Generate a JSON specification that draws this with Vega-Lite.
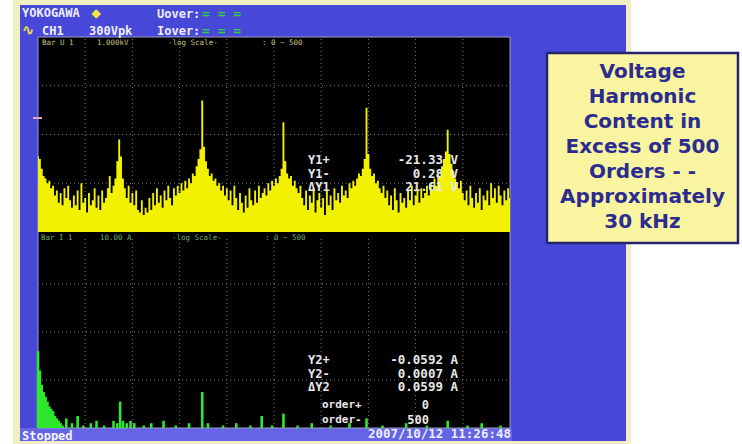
{
"$schema": "https://vega.github.io/schema/vega-lite/v6.json",
"width": 742, "height": 444, "padding": 0,
"autosize": {"type": "none"},
"background": "#ffffff",
"config": {"view": {"stroke": null}, "axis": {"disable": true}},
"datasets": {
"voltage": [
{"order":0,"u":11},{"order":2,"u":10},{"order":4,"u":6},{"order":6,"u":3},{"order":8,"u":2},{"order":10,"u":0},{"order":12,"u":1},{"order":14,"u":-2},{"order":16,"u":-1},{"order":18,"u":-5},
{"order":20,"u":-3},{"order":22,"u":-8},{"order":24,"u":-4},{"order":26,"u":-9},{"order":28,"u":-2},{"order":30,"u":-6},{"order":32,"u":-1},{"order":34,"u":-7},{"order":36,"u":-10},{"order":38,"u":-5},
{"order":40,"u":-9},{"order":42,"u":-3},{"order":44,"u":-11},{"order":46,"u":0},{"order":48,"u":-8},{"order":50,"u":-6},{"order":52,"u":-12},{"order":54,"u":-4},{"order":56,"u":-9},{"order":58,"u":-7},
{"order":60,"u":-2},{"order":62,"u":-10},{"order":64,"u":-5},{"order":66,"u":-11},{"order":68,"u":-3},{"order":70,"u":-8},{"order":72,"u":-6},{"order":74,"u":-2},{"order":76,"u":3},{"order":78,"u":-4},
{"order":80,"u":-1},{"order":82,"u":2},{"order":84,"u":9},{"order":86,"u":18},{"order":88,"u":11},{"order":90,"u":2},{"order":92,"u":-2},{"order":94,"u":-6},{"order":96,"u":-1},{"order":98,"u":-8},
{"order":100,"u":-4},{"order":102,"u":-9},{"order":104,"u":-3},{"order":106,"u":-11},{"order":108,"u":-12},{"order":110,"u":-7},{"order":112,"u":-13},{"order":114,"u":-10},{"order":116,"u":-12},{"order":118,"u":-6},
{"order":120,"u":-11},{"order":122,"u":-4},{"order":124,"u":-9},{"order":126,"u":-2},{"order":128,"u":-8},{"order":130,"u":-5},{"order":132,"u":-10},{"order":134,"u":-3},{"order":136,"u":-7},{"order":138,"u":-1},
{"order":140,"u":-6},{"order":142,"u":-9},{"order":144,"u":-2},{"order":146,"u":-5},{"order":148,"u":-1},{"order":150,"u":-4},{"order":152,"u":0},{"order":154,"u":-3},{"order":156,"u":1},{"order":158,"u":-2},
{"order":160,"u":2},{"order":162,"u":0},{"order":164,"u":4},{"order":166,"u":3},{"order":168,"u":7},{"order":170,"u":10},{"order":172,"u":14},{"order":174,"u":34},{"order":176,"u":15},{"order":178,"u":9},
{"order":180,"u":6},{"order":182,"u":3},{"order":184,"u":4},{"order":186,"u":1},{"order":188,"u":2},{"order":190,"u":-1},{"order":192,"u":0},{"order":194,"u":-3},{"order":196,"u":-1},{"order":198,"u":-5},
{"order":200,"u":-2},{"order":202,"u":-7},{"order":204,"u":-3},{"order":206,"u":-9},{"order":208,"u":-1},{"order":210,"u":-6},{"order":212,"u":-11},{"order":214,"u":-4},{"order":216,"u":-8},{"order":218,"u":-12},
{"order":220,"u":-5},{"order":222,"u":-10},{"order":224,"u":-2},{"order":226,"u":-7},{"order":228,"u":-9},{"order":230,"u":-3},{"order":232,"u":-8},{"order":234,"u":-1},{"order":236,"u":-6},{"order":238,"u":-4},
{"order":240,"u":-2},{"order":242,"u":-5},{"order":244,"u":0},{"order":246,"u":-3},{"order":248,"u":1},{"order":250,"u":-1},{"order":252,"u":2},{"order":254,"u":0},{"order":256,"u":3},{"order":258,"u":6},
{"order":260,"u":25},{"order":262,"u":9},{"order":264,"u":4},{"order":266,"u":2},{"order":268,"u":3},{"order":270,"u":-1},{"order":272,"u":1},{"order":274,"u":-2},{"order":276,"u":-4},{"order":278,"u":-1},
{"order":280,"u":-6},{"order":282,"u":-9},{"order":284,"u":-3},{"order":286,"u":-11},{"order":288,"u":-5},{"order":290,"u":-8},{"order":292,"u":-2},{"order":294,"u":-12},{"order":296,"u":-7},{"order":298,"u":-4},
{"order":300,"u":-10},{"order":302,"u":-6},{"order":304,"u":-13},{"order":306,"u":-3},{"order":308,"u":-9},{"order":310,"u":-5},{"order":312,"u":-11},{"order":314,"u":-2},{"order":316,"u":-7},{"order":318,"u":-4},
{"order":320,"u":-8},{"order":322,"u":-1},{"order":324,"u":-5},{"order":326,"u":-3},{"order":328,"u":-6},{"order":330,"u":0},{"order":332,"u":-2},{"order":334,"u":1},{"order":336,"u":-1},{"order":338,"u":2},
{"order":340,"u":4},{"order":342,"u":3},{"order":344,"u":6},{"order":346,"u":10},{"order":348,"u":31},{"order":350,"u":12},{"order":352,"u":6},{"order":354,"u":3},{"order":356,"u":4},{"order":358,"u":0},
{"order":360,"u":1},{"order":362,"u":-2},{"order":364,"u":-4},{"order":366,"u":-1},{"order":368,"u":-6},{"order":370,"u":-3},{"order":372,"u":-9},{"order":374,"u":-5},{"order":376,"u":-11},{"order":378,"u":-2},
{"order":380,"u":-7},{"order":382,"u":-12},{"order":384,"u":-4},{"order":386,"u":-8},{"order":388,"u":-6},{"order":390,"u":-10},{"order":392,"u":-3},{"order":394,"u":-7},{"order":396,"u":-1},{"order":398,"u":-9},
{"order":400,"u":-5},{"order":402,"u":-3},{"order":404,"u":-8},{"order":406,"u":-2},{"order":408,"u":-6},{"order":410,"u":-4},{"order":412,"u":-1},{"order":414,"u":-5},{"order":416,"u":0},{"order":418,"u":-3},
{"order":420,"u":2},{"order":422,"u":-1},{"order":424,"u":4},{"order":426,"u":3},{"order":428,"u":7},{"order":430,"u":10},{"order":432,"u":13},{"order":434,"u":22},{"order":436,"u":12},{"order":438,"u":8},
{"order":440,"u":5},{"order":442,"u":2},{"order":444,"u":0},{"order":446,"u":-2},{"order":448,"u":1},{"order":450,"u":-4},{"order":452,"u":-7},{"order":454,"u":-3},{"order":456,"u":-9},{"order":458,"u":-1},
{"order":460,"u":-6},{"order":462,"u":-10},{"order":464,"u":-4},{"order":466,"u":-8},{"order":468,"u":-2},{"order":470,"u":-11},{"order":472,"u":-5},{"order":474,"u":-7},{"order":476,"u":-3},{"order":478,"u":-9},
{"order":480,"u":0},{"order":482,"u":-6},{"order":484,"u":-2},{"order":486,"u":-8},{"order":488,"u":-1},{"order":490,"u":-5},{"order":492,"u":-9},{"order":494,"u":-3},{"order":496,"u":-7},{"order":498,"u":-2},{"order":500,"u":-6}
],
"current": [
{"order":0,"i":-28},{"order":2,"i":-36},{"order":4,"i":-42},{"order":6,"i":-45},{"order":8,"i":-47},{"order":10,"i":-49},{"order":12,"i":-51},{"order":14,"i":-52},{"order":16,"i":-53},{"order":18,"i":-55},
{"order":20,"i":-56},{"order":22,"i":-57},{"order":24,"i":-58},{"order":26,"i":-59},{"order":30,"i":-56},{"order":36,"i":-58},{"order":42,"i":-55},{"order":48,"i":-59},{"order":56,"i":-58},{"order":62,"i":-57},
{"order":70,"i":-59},{"order":80,"i":-57},{"order":84,"i":-58},{"order":87,"i":-49},{"order":90,"i":-57},{"order":94,"i":-58},{"order":98,"i":-57},{"order":102,"i":-58},{"order":112,"i":-59},{"order":120,"i":-58},
{"order":133,"i":-57},{"order":146,"i":-59},{"order":160,"i":-58},{"order":174,"i":-45},{"order":180,"i":-58},{"order":196,"i":-59},{"order":210,"i":-58},{"order":225,"i":-59},{"order":237,"i":-55},{"order":248,"i":-59},
{"order":260,"i":-54},{"order":275,"i":-59},{"order":290,"i":-58},{"order":310,"i":-59},{"order":330,"i":-58},{"order":348,"i":-56},{"order":365,"i":-59},{"order":390,"i":-58},{"order":412,"i":-59},{"order":434,"i":-57},
{"order":455,"i":-59},{"order":470,"i":-58},{"order":490,"i":-59}
],
"vgrid": [{"order":50},{"order":100},{"order":150},{"order":200},{"order":250},{"order":300},{"order":350},{"order":400},{"order":450}],
"ugrid": [{"level":0},{"level":20},{"level":40}],
"igrid": [{"level":-40},{"level":-20},{"level":0}]
},
"resolve": {"scale": {"x": "independent", "y": "independent"}},
"layer": [
{
"data": {"values": [{}]},
"layer": [
{"mark": {"type": "rect", "fill": "#f2eec4"}, "encoding": {"x": {"datum": 13, "type": "quantitative", "scale": {"domain": [0, 742], "range": [0, 742], "nice": false, "zero": false}}, "x2": {"datum": 631}, "y": {"datum": 0, "type": "quantitative", "scale": {"domain": [0, 444], "range": [0, 444], "nice": false, "zero": false}}, "y2": {"datum": 444}}},
{"mark": {"type": "rect", "fill": "#4848d8"}, "encoding": {"x": {"datum": 20, "type": "quantitative", "scale": {"domain": [0, 742], "range": [0, 742], "nice": false, "zero": false}}, "x2": {"datum": 626}, "y": {"datum": 5, "type": "quantitative", "scale": {"domain": [0, 444], "range": [0, 444], "nice": false, "zero": false}}, "y2": {"datum": 441}}},
{"mark": {"type": "rect", "fill": "#6464e4"}, "encoding": {"x": {"datum": 20, "type": "quantitative", "scale": {"domain": [0, 742], "range": [0, 742], "nice": false, "zero": false}}, "x2": {"datum": 512}, "y": {"datum": 428, "type": "quantitative", "scale": {"domain": [0, 444], "range": [0, 444], "nice": false, "zero": false}}, "y2": {"datum": 441}}},
{"mark": {"type": "rect", "fill": "#000000", "stroke": "#9a9ac8", "strokeWidth": 1}, "encoding": {"x": {"datum": 38, "type": "quantitative", "scale": {"domain": [0, 742], "range": [0, 742], "nice": false, "zero": false}}, "x2": {"datum": 510}, "y": {"datum": 37, "type": "quantitative", "scale": {"domain": [0, 444], "range": [0, 444], "nice": false, "zero": false}}, "y2": {"datum": 428}}},
{"mark": {"type": "rect", "fill": "#f8f4a0", "stroke": "#24246e", "strokeWidth": 2.5}, "encoding": {"x": {"datum": 547, "type": "quantitative", "scale": {"domain": [0, 742], "range": [0, 742], "nice": false, "zero": false}}, "x2": {"datum": 738}, "y": {"datum": 53, "type": "quantitative", "scale": {"domain": [0, 444], "range": [0, 444], "nice": false, "zero": false}}, "y2": {"datum": 243}}},
{"mark": {"type": "text", "text": ["Voltage", "Harmonic", "Content in", "Excess of 500", "Orders - -", "Approximately", "30 kHz"], "lineHeight": 25, "align": "center", "baseline": "middle", "font": "DejaVu Sans", "fontSize": 20, "fontWeight": "bold", "fill": "#2c2c90"}, "encoding": {"x": {"datum": 642.5, "type": "quantitative", "scale": {"domain": [0, 742], "range": [0, 742], "nice": false, "zero": false}}, "y": {"datum": 72, "type": "quantitative", "scale": {"domain": [0, 444], "range": [0, 444], "nice": false, "zero": false}}}},
{"mark": {"type": "text", "text": "YOKOGAWA", "align": "left", "baseline": "middle", "font": "DejaVu Sans Mono", "fontSize": 12, "fontWeight": "bold", "fill": "#eeeeff"}, "encoding": {"x": {"datum": 22, "type": "quantitative", "scale": {"domain": [0, 742], "range": [0, 742], "nice": false, "zero": false}}, "y": {"datum": 13, "type": "quantitative", "scale": {"domain": [0, 444], "range": [0, 444], "nice": false, "zero": false}}}},
{"mark": {"type": "text", "text": "◆", "align": "center", "baseline": "middle", "font": "DejaVu Sans", "fontSize": 12, "fill": "#f4e838"}, "encoding": {"x": {"datum": 96, "type": "quantitative", "scale": {"domain": [0, 742], "range": [0, 742], "nice": false, "zero": false}}, "y": {"datum": 13, "type": "quantitative", "scale": {"domain": [0, 444], "range": [0, 444], "nice": false, "zero": false}}}},
{"mark": {"type": "text", "text": ["Uover:", "Iover:"], "lineHeight": 17, "align": "left", "baseline": "middle", "font": "DejaVu Sans Mono", "fontSize": 12, "fontWeight": "bold", "fill": "#eeeeff"}, "encoding": {"x": {"datum": 157, "type": "quantitative", "scale": {"domain": [0, 742], "range": [0, 742], "nice": false, "zero": false}}, "y": {"datum": 13.5, "type": "quantitative", "scale": {"domain": [0, 444], "range": [0, 444], "nice": false, "zero": false}}}},
{"mark": {"type": "text", "text": ["= = =", "= = ="], "lineHeight": 17, "align": "left", "baseline": "middle", "font": "DejaVu Sans Mono", "fontSize": 13, "fontWeight": "bold", "fill": "#30d040"}, "encoding": {"x": {"datum": 202, "type": "quantitative", "scale": {"domain": [0, 742], "range": [0, 742], "nice": false, "zero": false}}, "y": {"datum": 13.5, "type": "quantitative", "scale": {"domain": [0, 444], "range": [0, 444], "nice": false, "zero": false}}}},
{"mark": {"type": "text", "text": "∿", "align": "center", "baseline": "middle", "font": "DejaVu Sans", "fontSize": 15, "fontWeight": "bold", "fill": "#f0e040"}, "encoding": {"x": {"datum": 28, "type": "quantitative", "scale": {"domain": [0, 742], "range": [0, 742], "nice": false, "zero": false}}, "y": {"datum": 30, "type": "quantitative", "scale": {"domain": [0, 444], "range": [0, 444], "nice": false, "zero": false}}}},
{"mark": {"type": "text", "text": "CH1", "align": "left", "baseline": "middle", "font": "DejaVu Sans Mono", "fontSize": 12, "fontWeight": "bold", "fill": "#eeeeff"}, "encoding": {"x": {"datum": 42, "type": "quantitative", "scale": {"domain": [0, 742], "range": [0, 742], "nice": false, "zero": false}}, "y": {"datum": 30.5, "type": "quantitative", "scale": {"domain": [0, 444], "range": [0, 444], "nice": false, "zero": false}}}},
{"mark": {"type": "text", "text": "300Vpk", "align": "left", "baseline": "middle", "font": "DejaVu Sans Mono", "fontSize": 12, "fontWeight": "bold", "fill": "#eeeeff"}, "encoding": {"x": {"datum": 89, "type": "quantitative", "scale": {"domain": [0, 742], "range": [0, 742], "nice": false, "zero": false}}, "y": {"datum": 30.5, "type": "quantitative", "scale": {"domain": [0, 444], "range": [0, 444], "nice": false, "zero": false}}}},
{"mark": {"type": "text", "text": "Bar U 1", "align": "left", "baseline": "middle", "font": "DejaVu Sans Mono", "fontSize": 7.5, "fill": "#c8c480"}, "encoding": {"x": {"datum": 42, "type": "quantitative", "scale": {"domain": [0, 742], "range": [0, 742], "nice": false, "zero": false}}, "y": {"datum": 42.5, "type": "quantitative", "scale": {"domain": [0, 444], "range": [0, 444], "nice": false, "zero": false}}}},
{"mark": {"type": "text", "text": "1.000kV", "align": "left", "baseline": "middle", "font": "DejaVu Sans Mono", "fontSize": 7.5, "fill": "#c8c480"}, "encoding": {"x": {"datum": 97, "type": "quantitative", "scale": {"domain": [0, 742], "range": [0, 742], "nice": false, "zero": false}}, "y": {"datum": 42.5, "type": "quantitative", "scale": {"domain": [0, 444], "range": [0, 444], "nice": false, "zero": false}}}},
{"mark": {"type": "text", "text": "-log Scale-", "align": "left", "baseline": "middle", "font": "DejaVu Sans Mono", "fontSize": 7.5, "fill": "#c8c480"}, "encoding": {"x": {"datum": 168, "type": "quantitative", "scale": {"domain": [0, 742], "range": [0, 742], "nice": false, "zero": false}}, "y": {"datum": 42.5, "type": "quantitative", "scale": {"domain": [0, 444], "range": [0, 444], "nice": false, "zero": false}}}},
{"mark": {"type": "text", "text": ":  0 ~ 500", "align": "left", "baseline": "middle", "font": "DejaVu Sans Mono", "fontSize": 7.5, "fill": "#c8c480"}, "encoding": {"x": {"datum": 262, "type": "quantitative", "scale": {"domain": [0, 742], "range": [0, 742], "nice": false, "zero": false}}, "y": {"datum": 42.5, "type": "quantitative", "scale": {"domain": [0, 444], "range": [0, 444], "nice": false, "zero": false}}}},
{"mark": {"type": "text", "text": "Bar I 1", "align": "left", "baseline": "middle", "font": "DejaVu Sans Mono", "fontSize": 7.5, "fill": "#70b070"}, "encoding": {"x": {"datum": 41, "type": "quantitative", "scale": {"domain": [0, 742], "range": [0, 742], "nice": false, "zero": false}}, "y": {"datum": 238, "type": "quantitative", "scale": {"domain": [0, 444], "range": [0, 444], "nice": false, "zero": false}}}},
{"mark": {"type": "text", "text": "10.00 A", "align": "left", "baseline": "middle", "font": "DejaVu Sans Mono", "fontSize": 7.5, "fill": "#70b070"}, "encoding": {"x": {"datum": 100, "type": "quantitative", "scale": {"domain": [0, 742], "range": [0, 742], "nice": false, "zero": false}}, "y": {"datum": 238, "type": "quantitative", "scale": {"domain": [0, 444], "range": [0, 444], "nice": false, "zero": false}}}},
{"mark": {"type": "text", "text": "-log Scale-", "align": "left", "baseline": "middle", "font": "DejaVu Sans Mono", "fontSize": 7.5, "fill": "#70b070"}, "encoding": {"x": {"datum": 172, "type": "quantitative", "scale": {"domain": [0, 742], "range": [0, 742], "nice": false, "zero": false}}, "y": {"datum": 238, "type": "quantitative", "scale": {"domain": [0, 444], "range": [0, 444], "nice": false, "zero": false}}}},
{"mark": {"type": "text", "text": ":  0 ~ 500", "align": "left", "baseline": "middle", "font": "DejaVu Sans Mono", "fontSize": 7.5, "fill": "#70b070"}, "encoding": {"x": {"datum": 265, "type": "quantitative", "scale": {"domain": [0, 742], "range": [0, 742], "nice": false, "zero": false}}, "y": {"datum": 238, "type": "quantitative", "scale": {"domain": [0, 444], "range": [0, 444], "nice": false, "zero": false}}}},
{"mark": {"type": "text", "text": "Stopped", "align": "left", "baseline": "middle", "font": "DejaVu Sans Mono", "fontSize": 12, "fontWeight": "bold", "fill": "#f4f4ff"}, "encoding": {"x": {"datum": 22, "type": "quantitative", "scale": {"domain": [0, 742], "range": [0, 742], "nice": false, "zero": false}}, "y": {"datum": 435.5, "type": "quantitative", "scale": {"domain": [0, 444], "range": [0, 444], "nice": false, "zero": false}}}},
{"mark": {"type": "text", "text": "2007/10/12 11:26:48", "align": "right", "baseline": "middle", "font": "DejaVu Sans Mono", "fontSize": 12.5, "fontWeight": "bold", "fill": "#eeeeff"}, "encoding": {"x": {"datum": 511, "type": "quantitative", "scale": {"domain": [0, 742], "range": [0, 742], "nice": false, "zero": false}}, "y": {"datum": 434, "type": "quantitative", "scale": {"domain": [0, 444], "range": [0, 444], "nice": false, "zero": false}}}}
]
},
{
"layer": [
{"data": {"name": "vgrid"}, "mark": {"type": "rule", "color": "#7a7a7a", "strokeDash": [1, 3], "strokeWidth": 1}, "encoding": {"x": {"field": "order", "type": "quantitative", "scale": {"domain": [0, 500], "range": [38, 510], "nice": false, "zero": false}}, "y": {"datum": -20, "type": "quantitative", "scale": {"domain": [-20, 60], "range": [232, 37], "nice": false, "zero": false}}, "y2": {"datum": 60}}},
{"data": {"name": "ugrid"}, "mark": {"type": "rule", "color": "#7a7a7a", "strokeDash": [1, 3], "strokeWidth": 1}, "encoding": {"y": {"field": "level", "type": "quantitative", "scale": {"domain": [-20, 60], "range": [232, 37], "nice": false, "zero": false}}, "x": {"datum": 0, "type": "quantitative", "scale": {"domain": [0, 500], "range": [38, 510], "nice": false, "zero": false}}, "x2": {"datum": 500}}},
{"data": {"name": "voltage"}, "mark": {"type": "area", "interpolate": "step", "color": "#f2f200"}, "encoding": {"x": {"field": "order", "type": "quantitative", "scale": {"domain": [0, 500], "range": [38, 510], "nice": false, "zero": false}}, "y": {"field": "u", "type": "quantitative", "scale": {"domain": [-20, 60], "range": [232, 37], "nice": false, "zero": false}}, "y2": {"datum": -20}}}
]
},
{
"layer": [
{"data": {"name": "vgrid"}, "mark": {"type": "rule", "color": "#7a7a7a", "strokeDash": [1, 3], "strokeWidth": 1}, "encoding": {"x": {"field": "order", "type": "quantitative", "scale": {"domain": [0, 500], "range": [38, 510], "nice": false, "zero": false}}, "y": {"datum": -60, "type": "quantitative", "scale": {"domain": [-60, 20], "range": [428, 236], "nice": false, "zero": false}}, "y2": {"datum": 20}}},
{"data": {"name": "igrid"}, "mark": {"type": "rule", "color": "#7a7a7a", "strokeDash": [1, 3], "strokeWidth": 1}, "encoding": {"y": {"field": "level", "type": "quantitative", "scale": {"domain": [-60, 20], "range": [428, 236], "nice": false, "zero": false}}, "x": {"datum": 0, "type": "quantitative", "scale": {"domain": [0, 500], "range": [38, 510], "nice": false, "zero": false}}, "x2": {"datum": 500}}},
{"data": {"name": "current"}, "mark": {"type": "rule", "color": "#2ee82e", "strokeWidth": 2.6}, "encoding": {"x": {"field": "order", "type": "quantitative", "scale": {"domain": [0, 500], "range": [38, 510], "nice": false, "zero": false}}, "y": {"field": "i", "type": "quantitative", "scale": {"domain": [-60, 20], "range": [428, 236], "nice": false, "zero": false}}, "y2": {"datum": -60}}}
]
},
{
"data": {"values": [{}]},
"layer": [
{"mark": {"type": "rule", "color": "#e0a8c0", "strokeWidth": 2}, "encoding": {"x": {"datum": 33, "type": "quantitative", "scale": {"domain": [0, 742], "range": [0, 742], "nice": false, "zero": false}}, "x2": {"datum": 42}, "y": {"datum": 118, "type": "quantitative", "scale": {"domain": [0, 444], "range": [0, 444], "nice": false, "zero": false}}}},
{"mark": {"type": "text", "text": ["Y1+", "Y1-", "ΔY1"], "lineHeight": 13.5, "align": "left", "baseline": "middle", "font": "DejaVu Sans Mono", "fontSize": 12, "fontWeight": "bold", "fill": "#e8e8e8"}, "encoding": {"x": {"datum": 308, "type": "quantitative", "scale": {"domain": [0, 742], "range": [0, 742], "nice": false, "zero": false}}, "y": {"datum": 160, "type": "quantitative", "scale": {"domain": [0, 444], "range": [0, 444], "nice": false, "zero": false}}}},
{"mark": {"type": "text", "text": ["-21.33 V", "0.28 V", "21.61 V"], "lineHeight": 13.5, "align": "right", "baseline": "middle", "font": "DejaVu Sans Mono", "fontSize": 12.5, "fontWeight": "bold", "fill": "#e8e8e8"}, "encoding": {"x": {"datum": 458, "type": "quantitative", "scale": {"domain": [0, 742], "range": [0, 742], "nice": false, "zero": false}}, "y": {"datum": 160, "type": "quantitative", "scale": {"domain": [0, 444], "range": [0, 444], "nice": false, "zero": false}}}},
{"mark": {"type": "text", "text": ["Y2+", "Y2-", "ΔY2"], "lineHeight": 13.5, "align": "left", "baseline": "middle", "font": "DejaVu Sans Mono", "fontSize": 12, "fontWeight": "bold", "fill": "#e8e8e8"}, "encoding": {"x": {"datum": 308, "type": "quantitative", "scale": {"domain": [0, 742], "range": [0, 742], "nice": false, "zero": false}}, "y": {"datum": 360, "type": "quantitative", "scale": {"domain": [0, 444], "range": [0, 444], "nice": false, "zero": false}}}},
{"mark": {"type": "text", "text": ["-0.0592 A", "0.0007 A", "0.0599 A"], "lineHeight": 13.5, "align": "right", "baseline": "middle", "font": "DejaVu Sans Mono", "fontSize": 12.5, "fontWeight": "bold", "fill": "#e8e8e8"}, "encoding": {"x": {"datum": 458, "type": "quantitative", "scale": {"domain": [0, 742], "range": [0, 742], "nice": false, "zero": false}}, "y": {"datum": 360, "type": "quantitative", "scale": {"domain": [0, 444], "range": [0, 444], "nice": false, "zero": false}}}},
{"mark": {"type": "text", "text": ["order+", "order-"], "lineHeight": 15, "align": "left", "baseline": "middle", "font": "DejaVu Sans Mono", "fontSize": 11, "fontWeight": "bold", "fill": "#e8e8e8"}, "encoding": {"x": {"datum": 322, "type": "quantitative", "scale": {"domain": [0, 742], "range": [0, 742], "nice": false, "zero": false}}, "y": {"datum": 405, "type": "quantitative", "scale": {"domain": [0, 444], "range": [0, 444], "nice": false, "zero": false}}}},
{"mark": {"type": "text", "text": ["0", "500"], "lineHeight": 15, "align": "right", "baseline": "middle", "font": "DejaVu Sans Mono", "fontSize": 12, "fontWeight": "bold", "fill": "#e8e8e8"}, "encoding": {"x": {"datum": 429, "type": "quantitative", "scale": {"domain": [0, 742], "range": [0, 742], "nice": false, "zero": false}}, "y": {"datum": 405, "type": "quantitative", "scale": {"domain": [0, 444], "range": [0, 444], "nice": false, "zero": false}}}}
]
}
]
}
